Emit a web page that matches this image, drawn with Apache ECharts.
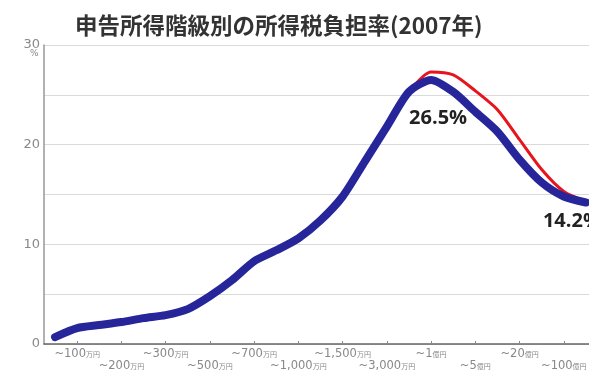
<!DOCTYPE html>
<html><head><meta charset="utf-8">
<script src="https://cdn.jsdelivr.net/npm/echarts@6/dist/echarts.min.js"></script>
<style>html,body{margin:0;padding:0;background:#fff}#c{width:589px;height:376px}</style>
</head><body><div id="c"></div>
<script>
const titleText = '申告所得階級別の所得税負担率(2007年)';
const categories = ['~70万円','~100万円','~150万円','~200万円','~250万円','~300万円','~400万円','~500万円','~600万円','~700万円','~800万円','~1,000万円','~1,200万円','~1,500万円','~2,000万円','~3,000万円','~5,000万円','~1億円','~2億円','~5億円','~10億円','~20億円','~50億円','~100億円','100億円超'];
const burdenBlue = [0.7,1.6,1.9,2.2,2.6,2.9,3.5,4.8,6.4,8.3,9.4,10.6,12.4,14.8,18.3,21.8,25.3,26.5,25.3,23.3,21.3,18.5,16.2,14.8,14.2];
const burdenRed  = [0.7,1.6,1.9,2.2,2.6,2.9,3.5,4.8,6.4,8.3,9.4,10.6,12.4,14.8,18.3,21.8,25.3,27.3,27.0,25.4,23.5,20.5,17.5,15.3,14.3];
const yTicks = [0,10,20,30];
const peakIdx = 17, lastIdx = 24;

const chart = echarts.init(document.getElementById('c'));
function splitLabel(s){
  const m = s.match(/^(.*?)(万円|億円)(.*)$/);
  return m ? [m[1], m[2]+m[3]] : [s,''];
}
const richStyles = {a:{fontFamily:'DejaVu Sans',fontSize:11.5,color:'#888',lineHeight:12},u:{fontFamily:'Noto Sans CJK JP',fontSize:7,color:'#888',lineHeight:12}};
const fmt = (v)=>{const p=splitLabel(v);return '{a|'+p[0]+'}{u|'+p[1]+'}';};
chart.setOption({
  animation:false,
  title:{text:titleText,left:70,top:9,textStyle:{fontFamily:'Noto Sans CJK JP',fontWeight:'bold',fontSize:22.5,color:'#333'}},
  grid:{left:44,top:45,width:553,height:299,containLabel:false,outerBoundsMode:'none'},
  xAxis:[
    {type:'category',data:categories,boundaryGap:true,
      axisLine:{lineStyle:{color:'#666',width:1.5}},
      axisTick:{show:true,inside:true,length:3,alignWithLabel:true,interval:(i)=>i%2===1,lineStyle:{color:'#888'}},
      axisLabel:{interval:(i)=>i%4===1,showMinLabel:true,showMaxLabel:true,margin:4,formatter:fmt,rich:richStyles}
    },
    {type:'category',data:categories,boundaryGap:true,position:'bottom',
      axisLine:{show:false},axisTick:{show:false},splitLine:{show:false},
      axisLabel:{interval:(i)=>i%4===3,showMinLabel:true,showMaxLabel:true,margin:16,formatter:fmt,rich:richStyles}
    }
  ],
  yAxis:{type:'value',min:0,max:30,interval:5,
    axisLine:{show:true,lineStyle:{color:'#999',width:1.5}},axisTick:{show:false},
    axisLabel:{fontFamily:'DejaVu Sans',fontSize:13,color:'#888',margin:4,formatter:(v)=>yTicks.indexOf(v)>=0?String(v):''},
    splitLine:{lineStyle:{color:'#dadada',width:1}}
  },
  graphic:[{type:'text',left:30,top:49,style:{text:'%',fontFamily:'DejaVu Sans',fontSize:9,fill:'#888'}}],
  series:[
    {type:'line',data:burdenRed,showSymbol:false,smooth:0.25,z:2,lineStyle:{color:'#e8141c',width:3,cap:'round',join:'round'}},
    {type:'line',data:burdenBlue,showSymbol:false,smooth:0.25,z:3,lineStyle:{color:'#26269a',width:8,cap:'round',join:'round'},
      markPoint:{symbol:'circle',symbolSize:0,
        label:{show:true,position:'inside',fontFamily:'Open Sans',fontWeight:'bold',fontSize:20,color:'#222',formatter:(p)=>p.value+'%'},
        data:[{coord:[peakIdx,burdenBlue[peakIdx]],value:burdenBlue[peakIdx],label:{offset:[7,38]}},
              {coord:[lastIdx,burdenBlue[lastIdx]],value:burdenBlue[lastIdx],label:{offset:[-14,19]}}]}}
  ]
});
</script></body></html>
